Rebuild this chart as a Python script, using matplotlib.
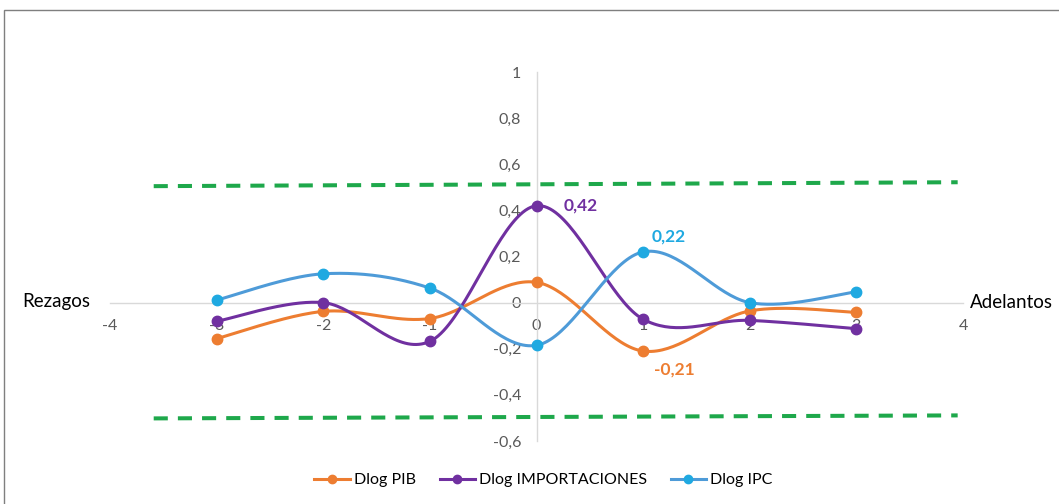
import numpy as np
import matplotlib.pyplot as plt
from matplotlib.patches import Rectangle

plt.rcParams['font.family'] = ['Lato', 'DejaVu Sans']

# lags / leads and cross-correlations
lags = [-3, -2, -1, 0, 1, 2, 3]
dlog_pib = [-0.156, -0.038, -0.069, 0.088, -0.21, -0.036, -0.042]
dlog_importaciones = [-0.081, 0.0, -0.168, 0.42, -0.072, -0.077, -0.113]
dlog_ipc = [0.011, 0.125, 0.063, -0.185, 0.22, 0.0, 0.047]

# confidence band end points
band_x = [-3.59, 3.95]
band_upper = [0.505, 0.522]
band_lower = [-0.502, -0.489]

x_ticks = [-4, -3, -2, -1, 0, 1, 2, 3, 4]
y_ticks = [-0.6, -0.4, -0.2, 0, 0.2, 0.4, 0.6, 0.8, 1]


def smooth(xs, ys, n=40):
	# Catmull-Rom style bezier smoothing through every point
	p = np.column_stack([xs, ys]).astype(float)
	p = np.vstack([p[0], p, p[-1]])
	out = []
	for i in range(1, len(p) - 2):
		p0, p1, p2, p3 = p[i - 1], p[i], p[i + 1], p[i + 2]
		c1 = p1 + (p2 - p0) / 6
		c2 = p2 - (p3 - p1) / 6
		t = np.linspace(0, 1, n)[:, None]
		seg = ((1 - t) ** 3 * p1 + 3 * (1 - t) ** 2 * t * c1
			   + 3 * (1 - t) * t ** 2 * c2 + t ** 3 * p2)
		out.append(seg)
	out = np.vstack(out)
	return out[:, 0], out[:, 1]


def comma(v):
	return f'{v:.2f}'.replace('.', ',')


fig = plt.figure(figsize=(10.59, 5.04), dpi=100, facecolor='w')
ax = fig.add_axes([110 / 1059, 1 - 441 / 504, 853 / 1059, 369 / 504])

# outer chart border
fig.patches.append(Rectangle((4 / 1059, -0.5), 2, 1.5 - 10 / 504,
							 transform=fig.transFigure, fill=False,
							 ec='#7f7f7f', lw=1))

ax.plot(band_x, band_upper, color='#1ea84b', lw=2.9, dashes=(3.5, 2.5),
		solid_capstyle='butt', dash_capstyle='butt')
ax.plot(band_x, band_lower, color='#1ea84b', lw=2.9, dashes=(3.5, 2.5),
		solid_capstyle='butt', dash_capstyle='butt')

series = [
	('Dlog PIB', dlog_pib, '#ed7d31', '#ed7d31'),
	('Dlog IMPORTACIONES', dlog_importaciones, '#7030a0', '#7030a0'),
	('Dlog IPC', dlog_ipc, '#4e9bd8', '#1fa9e1'),
]
handles = []
for name, vals, lc, mc in series:
	sx, sy = smooth(lags, vals)
	ax.plot(sx, sy, color=lc, lw=2.2, zorder=3)
	ax.plot(lags, vals, 'o', color=mc, ms=7.5, zorder=4)
	h, = ax.plot([], [], '-o', color=lc, mfc=mc, mec=mc, lw=2.2, ms=6, label=name)
	handles.append(h)

# value labels
ax.text(0.25, dlog_importaciones[3], comma(dlog_importaciones[3]),
		color='#7030a0', fontsize=12.5, fontweight='bold', va='center', ha='left')
ax.text(1.08, dlog_ipc[4] + 0.065, comma(dlog_ipc[4]),
		color='#1fa9e1', fontsize=12.5, fontweight='bold', va='center', ha='left')
ax.text(1.1, dlog_pib[4] - 0.08, comma(dlog_pib[4]),
		color='#ed7d31', fontsize=12.5, fontweight='bold', va='center', ha='left')

ax.set_xlim(-4, 4)
ax.set_ylim(-0.6, 1)
ax.set_xticks(x_ticks)
ax.set_yticks(y_ticks)
ax.set_xticklabels([str(v) for v in x_ticks])
ax.set_yticklabels([f'{v:g}'.replace('.', ',') for v in y_ticks])

for side in ['top', 'right']:
	ax.spines[side].set_visible(False)
ax.spines['left'].set_position(('data', 0))
ax.spines['bottom'].set_position(('data', 0))
for side in ['left', 'bottom']:
	ax.spines[side].set_color('#d9d9d9')
	ax.spines[side].set_linewidth(1)
ax.tick_params(axis='x', length=0, pad=11.5, labelsize=11.5, labelcolor='#595959')
ax.tick_params(axis='y', length=0, pad=11, labelsize=11.5, labelcolor='#595959')

fig.text(22 / 1059, 1 - 302 / 504, 'Rezagos', fontsize=13.5, va='center', ha='left')
fig.text(970 / 1059, 1 - 302 / 504, 'Adelantos', fontsize=13.5, va='center', ha='left')

fig.legend(handles=handles, loc='center', bbox_to_anchor=(0.513, 1 - 480 / 504),
		   ncol=3, frameon=False, fontsize=11.5, handlelength=2.2,
		   columnspacing=1.5, handletextpad=0.25)

fig.savefig('out.png', dpi=100, facecolor='w')
